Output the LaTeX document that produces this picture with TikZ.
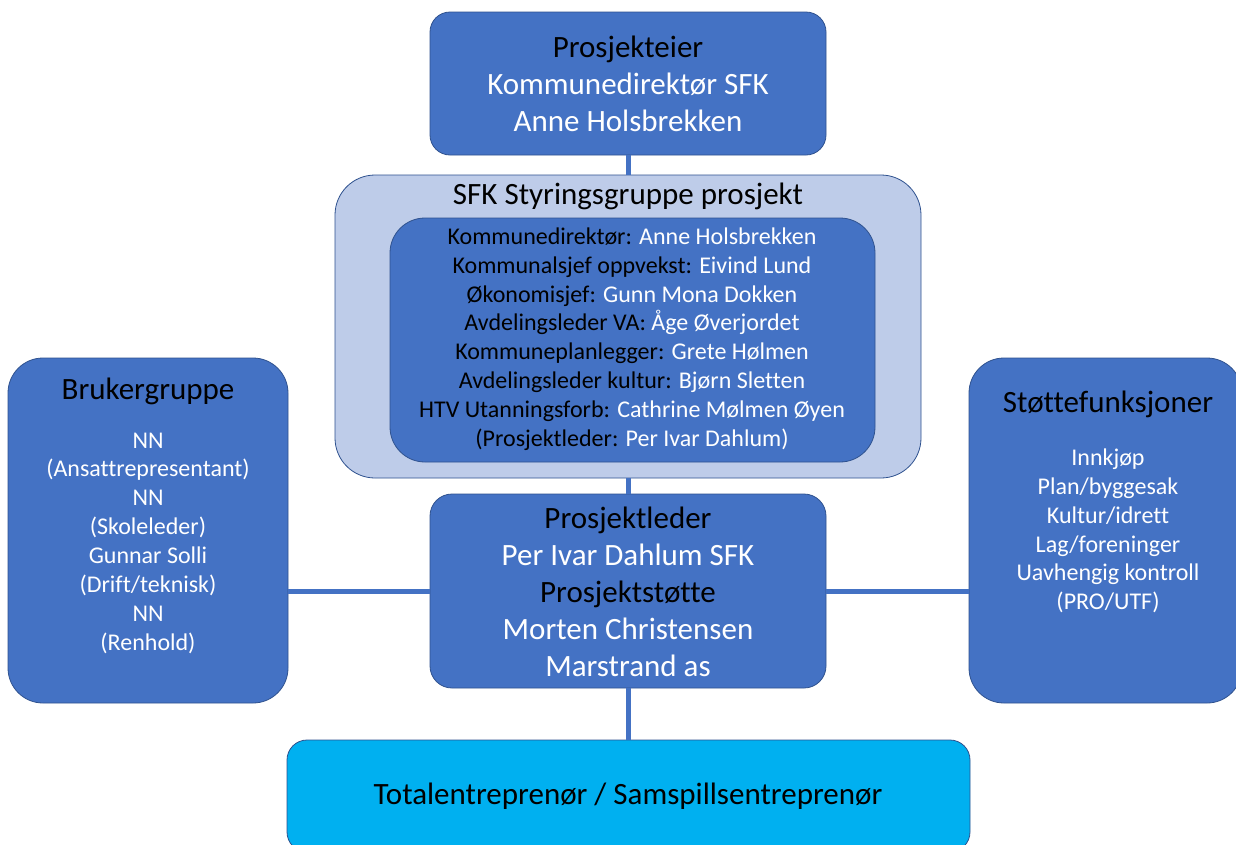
\documentclass[tikz,border=0pt]{standalone}
\usepackage{fontspec}
\setmainfont{Carlito}[Ligatures=NoCommon]
\definecolor{mainblue}{HTML}{4472C4}
\definecolor{edgeblue}{HTML}{2F528F}
\definecolor{paleblue}{RGB}{190,204,233}
\definecolor{skyblue}{HTML}{00B0F0}
\begin{document}
\begin{tikzpicture}[x=1pt,y=-1pt,
  box/.style={draw=edgeblue, line width=0.8pt, fill=mainblue, inner sep=0pt, rounded corners=#1},
  box/.default=20pt,
  conn/.style={draw=mainblue, line width=5pt},
  bigtext/.style={font=\fontsize{31}{37}\selectfont, align=center, text=white, inner sep=0pt},
  smalltext/.style={font=\fontsize{24}{28.85}\selectfont, align=center, text=white, inner sep=0pt},
  titletext/.style={font=\fontsize{31}{36}\selectfont, align=center, text=black, inner sep=0pt}]
\useasboundingbox (0,0) rectangle (1236,844);
\fill[white] (0,0) rectangle (1236,844);

% boxes
\node[box=20pt, minimum width=396pt, minimum height=143pt] (eier) at (628,83.5) {};
\node[box=40pt, fill=paleblue, minimum width=586pt, minimum height=303pt] (styr) at (628,326.5) {};
\node[box=35pt, minimum width=485pt, minimum height=244pt] (inner) at (632.5,340) {};
\node[box=35pt, minimum width=280pt, minimum height=345pt] (bruker) at (148,530.5) {};
\node[box=35pt, minimum width=273pt, minimum height=345pt] (stotte) at (1105.5,530.5) {};
\node[box=22pt, minimum width=396pt, minimum height=194pt] (leder) at (628,591) {};
\node[box=20pt, fill=skyblue, minimum width=683pt, minimum height=112pt] (total) at (628.5,796) {};

% connectors
\draw[conn] (eier.south) -- (eier.south |- styr.north);
\draw[conn] (styr.south) -- (styr.south |- leder.north);
\draw[conn] (leder.south) -- (leder.south |- total.north);
\draw[conn] (bruker.east |- leder.west) -- (leder.west);
\draw[conn] (leder.east) -- (stotte.west |- leder.east);

% texts
\node[bigtext] (eiertxt) at (628,84) {\textcolor{black}{Prosjekteier}\\Kommunedirektør SFK\\Anne Holsbrekken};
\node[titletext] (styrtitle) at (628,196) {SFK Styringsgruppe prosjekt};
\node[smalltext] (innertxt) at (632,339) {%
\textcolor{black}{Kommunedirektør:} Anne Holsbrekken\\
\textcolor{black}{Kommunalsjef oppvekst:} Eivind Lund\\
\textcolor{black}{Økonomisjef:} Gunn Mona Dokken\\
\textcolor{black}{Avdelingsleder VA:} Åge Øverjordet\\
\textcolor{black}{Kommuneplanlegger:} Grete Hølmen\\
\textcolor{black}{Avdelingsleder kultur:} Bjørn Sletten\\
\textcolor{black}{HTV Utanningsforb:} Cathrine Mølmen Øyen\\
\textcolor{black}{(Prosjektleder:} Per Ivar Dahlum)};
\node[titletext] (brukertitle) at (148,391) {Brukergruppe};
\node[smalltext] (brukertxt) at (148,543) {NN\\(Ansattrepresentant)\\NN\\(Skoleleder)\\Gunnar Solli\\(Drift/teknisk)\\NN\\(Renhold)};
\node[titletext] (stottetitle) at (1108,404) {Støttefunksjoner};
\node[smalltext] (stottetxt) at (1108,531) {Innkjøp\\Plan/byggesak\\Kultur/idrett\\Lag/foreninger\\Uavhengig kontroll\\(PRO/UTF)};
\node[bigtext] (ledertxt) at (628,592) {\textcolor{black}{Prosjektleder}\\Per Ivar Dahlum SFK\\\textcolor{black}{Prosjektstøtte}\\Morten Christensen\\Marstrand as};
\node[titletext] (totaltxt) at (628,796) {Totalentreprenør / Samspillsentreprenør};
\end{tikzpicture}
\end{document}
